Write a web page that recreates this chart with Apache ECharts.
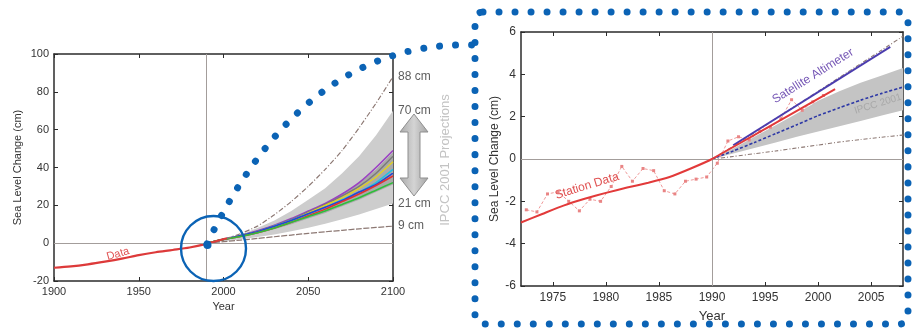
<!DOCTYPE html>
<html><head><meta charset="utf-8">
<script src="https://cdn.jsdelivr.net/npm/echarts@6/dist/echarts.min.js"></script>
<style>html,body{margin:0;padding:0;background:#fff}#c{width:912px;height:331px}</style>
</head><body><div id="c"></div>
<script>
// ---------- LEFT PANEL (1900-2100) ----------
const leftXTicks = [1900, 1950, 2000, 2050, 2100];
const leftYTicks = [-20, 0, 20, 40, 60, 80, 100];
const obsYearsL = [1900, 1910, 1920, 1930, 1940, 1950, 1960, 1970, 1980, 1990, 1995, 2002];
const obsValsL  = [-13, -12.3, -11.2, -9.8, -8.2, -6.3, -4.8, -3.6, -2.3, -0.4, 0.9, 2.6];
const projYears = [1990, 2000, 2010, 2020, 2030, 2040, 2050, 2060, 2070, 2080, 2090, 2100];
const upper88   = [0, 2, 5, 9, 15, 22, 30, 39, 49, 61, 74, 88];
const bandHiL   = [0, 2, 4.5, 8, 12, 17, 23, 29, 37, 46, 57, 70];
const bandLoL   = [0, 1, 2, 3.2, 4.6, 6.3, 8.2, 10.3, 12.6, 15.2, 18, 21];
const innerHiL  = [0, 2, 4, 6.5, 9.5, 13, 17, 21, 26, 32, 39, 48];
const innerLoL  = [0, 1.8, 3.3, 5, 7.3, 10, 13, 16, 19.5, 23, 27, 31];
const lower9    = [0, 0.8, 1.6, 2.5, 3.4, 4.3, 5.2, 6, 6.8, 7.6, 8.3, 9];
const modelPurple = [0, 2, 4, 6.5, 9.5, 13, 17, 21, 26, 32, 40, 49];
const modelGray   = [0, 2, 4, 6.3, 9.2, 12.5, 16.5, 20.5, 25, 30, 37, 46];
const modelYellow = [0, 2, 4, 6, 9, 12, 16, 20, 24, 29, 35, 43];
const modelCyan   = [0, 2, 4, 6, 9, 12, 15.5, 19, 23, 27, 32, 39];
const modelBlue   = [0, 2, 4, 6, 9, 12, 15.5, 19, 22.5, 27, 31, 37];
const modelRed    = [0, 2, 3.5, 5.5, 8, 11, 14.5, 18, 22, 26, 30.5, 35.5];
const modelGreen  = [0, 2, 3.5, 5.5, 8, 11, 14, 17, 20.5, 24, 28, 32];
const endLabelVals  = [88, 70, 21, 9];
const endLabelTexts = ['88 cm', '70 cm', '21 cm', '9 cm'];

// ---------- RIGHT PANEL (1972-2008) ----------
const rightXTicks = [1975, 1980, 1985, 1990, 1995, 2000, 2005];
const rightYTicks = [-6, -4, -2, 0, 2, 4, 6];
const stationTrendYears = [1972, 1974, 1976, 1978, 1980, 1982, 1984, 1986, 1988, 1990, 2001.6];
const stationTrendVals  = [-3.0, -2.6, -2.2, -1.88, -1.6, -1.35, -1.12, -0.85, -0.45, 0, 3.3];
const stationRawYears = [1972.5, 1973.5, 1974.5, 1975.5, 1976.5, 1977.5, 1978.5, 1979.5, 1980.5, 1981.5, 1982.5, 1983.5, 1984.5, 1985.5, 1986.5, 1987.5, 1988.5, 1989.5, 1990.5, 1991.5, 1992.5, 1993.5, 1994.5, 1995.5, 1996.5, 1997.5, 1998.5, 1999.5, 2000.5];
const stationRawVals  = [-2.4, -2.5, -1.65, -1.55, -2.0, -2.45, -1.9, -2.0, -1.3, -0.35, -1.05, -0.45, -0.55, -1.5, -1.65, -1.05, -0.95, -0.85, -0.2, 0.85, 1.05, 0.9, 1.3, 1.5, 1.9, 2.8, 2.3, 2.7, 3.0];
const satYears = [1992, 2006.8];
const satVals  = [0.65, 5.3];
const projYearsR = [1990, 1992, 1994, 1996, 1998, 2000, 2002, 2004, 2006, 2008];
const midR     = [0, 0.38, 0.78, 1.2, 1.62, 2.05, 2.42, 2.78, 3.1, 3.4];
const bandHiR  = [0, 0.5, 1.05, 1.6, 2.15, 2.75, 3.2, 3.6, 3.95, 4.3];
const bandLoR  = [0, 0.26, 0.52, 0.78, 1.05, 1.3, 1.55, 1.8, 2.05, 2.3];
const lowerR   = [0, 0.12, 0.25, 0.38, 0.52, 0.66, 0.8, 0.92, 1.03, 1.13];
const upperR   = [0, 0.6, 1.25, 1.9, 2.55, 3.2, 3.85, 4.5, 5.15, 5.8];

const zip = (xs, ys) => xs.map((x, i) => [x, ys[i]]);
const FONT = '"Liberation Sans", Arial, sans-serif';
const AX = '#2b2b2b';

const baseTick = { show: true, inside: true, length: 4, lineStyle: { color: AX, width: 1 } };
const baseLine = { show: true, onZero: false, lineStyle: { color: AX, width: 1.5 } };
const plain = v => String(v);

const xAxes = [
  { gridIndex: 0, type: 'value', min: 1900, max: 2100, interval: 50, position: 'bottom',
    axisLine: baseLine, axisTick: baseTick, splitLine: { show: false },
    axisLabel: { color: '#333', fontSize: 11, margin: 5, fontFamily: FONT, formatter: plain },
    name: 'Year', nameLocation: 'middle', nameGap: 20, nameTextStyle: { color: '#333', fontSize: 11, fontFamily: FONT } },
  { gridIndex: 0, type: 'value', min: 1900, max: 2100, interval: 50, position: 'top',
    axisLine: baseLine, axisTick: baseTick, splitLine: { show: false }, axisLabel: { show: false } },
  { gridIndex: 1, type: 'value', min: 1972, max: 2008, position: 'bottom',
    axisLine: baseLine, axisTick: Object.assign({}, baseTick, { customValues: rightXTicks }), splitLine: { show: false },
    axisLabel: { color: '#333', fontSize: 12, margin: 6, fontFamily: FONT, customValues: rightXTicks, formatter: plain },
    name: 'Year', nameLocation: 'middle', nameGap: 24, nameTextStyle: { color: '#333', fontSize: 13, fontFamily: FONT } },
  { gridIndex: 1, type: 'value', min: 1972, max: 2008, position: 'top',
    axisLine: baseLine, axisTick: Object.assign({}, baseTick, { customValues: rightXTicks }), splitLine: { show: false },
    axisLabel: { show: false, customValues: rightXTicks } }
];
const yAxes = [
  { gridIndex: 0, type: 'value', min: -20, max: 100, interval: 20, position: 'left',
    axisLine: baseLine, axisTick: baseTick, splitLine: { show: false },
    axisLabel: { color: '#333', fontSize: 11, margin: 5, fontFamily: FONT },
    name: 'Sea Level Change (cm)', nameLocation: 'middle', nameGap: 31, nameTextStyle: { color: '#333', fontSize: 11, fontFamily: FONT } },
  { gridIndex: 0, type: 'value', min: -20, max: 100, interval: 20, position: 'right',
    axisLine: baseLine, axisTick: baseTick, splitLine: { show: false }, axisLabel: { show: false } },
  { gridIndex: 1, type: 'value', min: -6, max: 6, interval: 2, position: 'left',
    axisLine: baseLine, axisTick: baseTick, splitLine: { show: false },
    axisLabel: { color: '#333', fontSize: 12, margin: 5, fontFamily: FONT },
    name: 'Sea Level Change (cm)', nameLocation: 'middle', nameGap: 20, nameTextStyle: { color: '#333', fontSize: 12, fontFamily: FONT } },
  { gridIndex: 1, type: 'value', min: -6, max: 6, interval: 2, position: 'right',
    axisLine: baseLine, axisTick: baseTick, splitLine: { show: false }, axisLabel: { show: false } }
];

const refLines = (xv) => ({
  silent: true, symbol: ['none', 'none'], label: { show: false },
  lineStyle: { color: '#a39d9b', width: 1, type: 'solid' },
  data: [{ yAxis: 0 }, { xAxis: xv }]
});

function line(xi, data, color, width, type, extra) {
  return Object.assign({
    type: 'line', xAxisIndex: xi, yAxisIndex: xi, data: data, symbol: 'none', smooth: 0.2,
    lineStyle: { color: color, width: width, type: type || 'solid' }, z: 3, silent: true, animation: false
  }, extra || {});
}

function band(xi, xs, lo, hi, color, z) {
  return {
    type: 'custom', xAxisIndex: xi, yAxisIndex: xi, data: [[xs[0], lo[0]]], silent: true, z: z || 1, animation: false,
    renderItem: function (params, api) {
      const top = xs.map((x, i) => api.coord([x, hi[i]]));
      const bot = xs.map((x, i) => api.coord([x, lo[i]])).reverse();
      return { type: 'polygon', shape: { points: top.concat(bot) }, style: { fill: color, stroke: null } };
    }
  };
}

const series = [
  // left panel
  band(0, projYears, bandLoL, bandHiL, '#cdcdcd', 1),
  band(0, projYears, innerLoL, innerHiL, '#a9a9a9', 2),
  line(0, zip(projYears, modelPurple), '#9b3fc4', 1.6),
  line(0, zip(projYears, modelGray), '#7a7a7a', 1.4),
  line(0, zip(projYears, modelYellow), '#e2d21e', 1.4),
  line(0, zip(projYears, modelCyan), '#1fc1e4', 1.4),
  line(0, zip(projYears, modelBlue), '#2446d6', 1.6),
  line(0, zip(projYears, modelRed), '#e23030', 1.6),
  line(0, zip(projYears, modelGreen), '#2fbf3a', 1.6),
  line(0, zip(projYears, upper88), '#8c7873', 1.2, [5, 2, 1, 2]),
  line(0, zip(projYears, lower9), '#8c7873', 1.2, [6, 1.5], { markLine: refLines(1990), z: 2 }),
  line(0, zip(obsYearsL, obsValsL), '#dd3a3a', 2.2, 'solid', { smooth: 0.3, z: 4 }),
  { type: 'scatter', xAxisIndex: 0, yAxisIndex: 0, symbolSize: 0, clip: false, silent: true, animation: false,
    data: endLabelVals.map((v, i) => ({ value: [2100, v], name: endLabelTexts[i] })),
    label: { show: true, position: 'right', distance: 5, formatter: '{b}', color: '#333', fontSize: 12, fontFamily: FONT } },

  // right panel
  band(2, projYearsR, bandLoR, bandHiR, '#c4c4c4', 1),
  line(2, zip(projYearsR, lowerR), '#8c7873', 1.1, [4, 2, 1, 2], { markLine: refLines(1990), z: 2 }),
  line(2, zip(projYearsR, upperR), '#8c7873', 1.1, [4, 2, 1, 2]),
  line(2, zip(stationRawYears, stationRawVals), '#f09a9a', 1, [3, 2], { smooth: false, symbol: 'rect', symbolSize: 3, showSymbol: true, itemStyle: { color: '#e98484' } }),
  line(2, zip(projYearsR, midR), '#2d38a6', 1.6, [3, 2]),
  line(2, zip(satYears, satVals), '#4b3cae', 2, 'solid', { smooth: false, z: 5 }),
  line(2, zip(stationTrendYears, stationTrendVals), '#e23a3a', 2, 'solid', { smooth: 0.15, z: 6 })
];

const BLUE = '#0b63b5';
const graphic = [
  { type: 'polygon', z: 50, shape: { points: [[414,114],[400,132],[408,132],[408,178],[400,178],[414,196],[428,178],[420,178],[420,132],[428,132]] },
    style: { fill: new echarts.graphic.LinearGradient(0, 0, 1, 0, [{ offset: 0, color: '#a9a9a9' }, { offset: 0.5, color: '#d4d4d4' }, { offset: 1, color: '#a3a3a3' }]), stroke: '#8f8f8f', lineWidth: 1 } },
  { type: 'text', z: 50, x: 445, y: 160, rotation: Math.PI / 2,
    style: { text: 'IPCC 2001 Projections', fill: '#c3c3c3', font: '13px ' + FONT, textAlign: 'center', textVerticalAlign: 'middle' } },
  { type: 'text', z: 50, x: 118, y: 254, rotation: 0.28,
    style: { text: 'Data', fill: '#e05252', font: '11px ' + FONT, textAlign: 'center', textVerticalAlign: 'middle' } },
  { type: 'text', z: 50, x: 587, y: 186, rotation: 0.3,
    style: { text: 'Station Data', fill: '#e05252', font: '12px ' + FONT, textAlign: 'center', textVerticalAlign: 'middle' } },
  { type: 'text', z: 50, x: 813, y: 76, rotation: 0.56,
    style: { text: 'Satellite Altimeter', fill: '#7556b5', font: '12px ' + FONT, textAlign: 'center', textVerticalAlign: 'middle' } },
  { type: 'text', z: 50, x: 878, y: 104, rotation: 0.3,
    style: { text: 'IPCC 2001', fill: '#a8a8a8', font: '10px ' + FONT, textAlign: 'center', textVerticalAlign: 'middle' } },
  { type: 'circle', z: 60, shape: { cx: 213.5, cy: 248.5, r: 32.5 }, style: { fill: null, stroke: BLUE, lineWidth: 2.4 } },
  { type: 'circle', z: 61, shape: { cx: 207.5, cy: 245, r: 4 }, style: { fill: BLUE } },
  { type: 'bezierCurve', z: 60, shape: { x1: 207, y1: 244, cpx1: 252, cpy1: 150, cpx2: 330, cpy2: 40, x2: 475, y2: 45 },
    style: { fill: null, stroke: BLUE, lineWidth: 7, lineDash: [0.01, 16], lineCap: 'round' } },
  { type: 'rect', z: 60, shape: { x: 475, y: 12, width: 433, height: 312, r: 8 },
    style: { fill: null, stroke: BLUE, lineWidth: 7, lineDash: [0.01, 16], lineCap: 'round' } }
];

const chart = echarts.init(document.getElementById('c'), null, { renderer: 'canvas' });
chart.setOption({
  animation: false,
  backgroundColor: '#fff',
  textStyle: { fontFamily: FONT },
  grid: [
    { left: 54, top: 54, width: 339, height: 227, containLabel: false, outerBoundsMode: 'none' },
    { left: 521, top: 32, width: 382, height: 254, containLabel: false, outerBoundsMode: 'none' }
  ],
  xAxis: xAxes,
  yAxis: yAxes,
  series: series,
  graphic: graphic
});
</script>
</body></html>
